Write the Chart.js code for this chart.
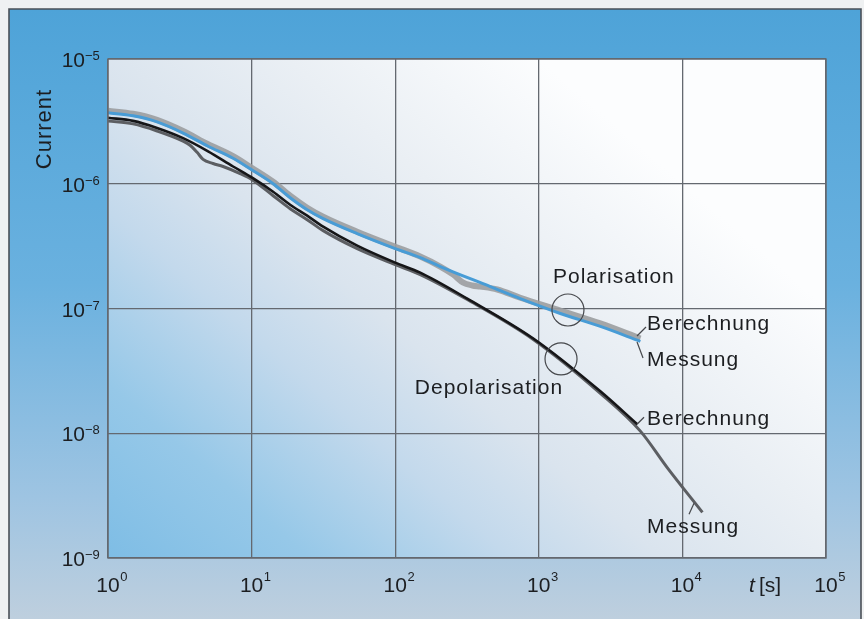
<!DOCTYPE html>
<html>
<head>
<meta charset="utf-8">
<script src="https://cdn.jsdelivr.net/npm/chart.js@4.4.1/dist/chart.umd.min.js"></script>
<style>
  html, body { margin: 0; padding: 0; background: #eff1f2; }
  canvas { display: block; }
</style>
</head>
<body>
<canvas id="chart" width="864" height="619"></canvas>
<script>
// Axis decades
const xTicks = [1, 10, 100, 1000, 10000, 100000];
const xExponents = ['0', '1', '2', '3', '4', '5'];
const yTicks = [1e-9, 1e-8, 1e-7, 1e-6, 1e-5];
const yExponents = ['\u22129', '\u22128', '\u22127', '\u22126', '\u22125'];

// Polarisation current, calculated (wide grey line)
const polCalcT = [1, 1.494, 2.195, 3.332, 4.976, 7.432, 10.08, 14.12, 18.55, 24.37, 31.5, 54.35, 100, 149.4, 205.9, 253.7, 297.8, 344.1, 391.2, 513.7, 743.2, 1412, 2683, 5098];
const polCalcI = [3.848e-6, 3.639e-6, 3.252e-6, 2.647e-6, 2.075e-6, 1.664e-6, 1.337e-6, 1.038e-6, 8.02e-7, 6.43e-7, 5.45e-7, 4.13e-7, 3.13e-7, 2.61e-7, 2.17e-7, 1.87e-7, 1.61e-7, 1.53e-7, 1.50e-7, 1.42e-7, 1.22e-7, 9.64e-8, 7.59e-8, 5.75e-8];

// Polarisation current, measured (blue line)
const polMeasT = [1, 1.494, 2.195, 3.332, 4.976, 7.432, 10.08, 14.12, 18.55, 24.37, 31.5, 54.35, 100, 149.4, 205.9, 459, 743.2, 1412, 2683, 5098];
const polMeasI = [3.707e-6, 3.504e-6, 3.132e-6, 2.550e-6, 1.999e-6, 1.601e-6, 1.287e-6, 1.0e-6, 7.73e-7, 6.19e-7, 5.25e-7, 3.98e-7, 3.02e-7, 2.56e-7, 2.17e-7, 1.50e-7, 1.20e-7, 9.12e-8, 7.18e-8, 5.45e-8];

// Depolarisation current, calculated (black line)
const depCalcT = [1, 1.494, 2.195, 3.332, 4.976, 7.432, 10.08, 14.12, 18.55, 24.37, 31.5, 54.35, 100, 149.4, 317.5, 915.5, 2683, 4856];
const depCalcI = [3.378e-6, 3.192e-6, 2.801e-6, 2.322e-6, 1.820e-6, 1.375e-6, 1.119e-6, 8.63e-7, 6.79e-7, 5.55e-7, 4.53e-7, 3.19e-7, 2.33e-7, 1.94e-7, 1.20e-7, 5.75e-8, 2.17e-8, 1.18e-8];

// Depolarisation current, measured (dark grey line)
const depMeasT = [1, 1.494, 2.195, 3.332, 3.727, 4.172, 4.592, 5.39, 6.33, 8.32, 10.08, 14.12, 18.55, 24.37, 31.5, 54.35, 100, 149.4, 317.5, 915.5, 2683, 5098, 7863, 13787];
const depMeasI = [3.192e-6, 3.018e-6, 2.647e-6, 2.195e-6, 2.037e-6, 1.786e-6, 1.567e-6, 1.454e-6, 1.375e-6, 1.206e-6, 1.078e-6, 8.02e-7, 6.31e-7, 5.15e-7, 4.21e-7, 3.02e-7, 2.25e-7, 1.87e-7, 1.18e-7, 5.65e-8, 2.09e-8, 1.04e-8, 5.28e-9, 2.32e-9];

const toPoints = (ts, is) => ts.map((t, k) => ({ x: t, y: is[k] }));

// Text annotations anchored in data space (t, I) at left edge / baseline
const notes = [
  { text: 'Polarisation',   t: 1256, i: 1.60e-7 },
  { text: 'Depolarisation', t: 137,  i: 2.07e-8 },
  { text: 'Berechnung',     t: 5670, i: 6.73e-8, lead: [[-1, -3], [-10, 6]] },
  { text: 'Messung',        t: 5670, i: 3.46e-8, lead: [[-4, -8], [-10, -24]] },
  { text: 'Berechnung',     t: 5670, i: 1.16e-8, lead: [[-3, -8], [-10, -1]] },
  { text: 'Messung',        t: 5670, i: 1.58e-9, lead: [[42, -19], [47, -30]] }
];
const rings = [
  { t: 1596, i: 9.73e-8 },
  { t: 1428, i: 3.94e-8 }
];

const SANS = '"Liberation Sans", Arial, Helvetica, sans-serif';
const INK = '#1c1e21';

const decor = {
  id: 'decor',
  beforeDraw(chart) {
    const { ctx, chartArea: a, width, height } = chart;
    ctx.save();
    ctx.fillStyle = '#eff1f2';
    ctx.fillRect(0, 0, width, height);

    // blue frame
    const g = ctx.createLinearGradient(0, 9, 0, height);
    g.addColorStop(0, 'rgb(78,163,216)');
    g.addColorStop(0.45, 'rgb(106,177,223)');
    g.addColorStop(0.8, 'rgb(158,196,226)');
    g.addColorStop(1, 'rgb(190,207,222)');
    ctx.fillStyle = g;
    ctx.fillRect(9, 9, 852, height - 9);
    ctx.strokeStyle = '#4b5057';
    ctx.lineWidth = 1.6;
    ctx.beginPath();
    ctx.moveTo(9, height + 2);
    ctx.lineTo(9, 9);
    ctx.lineTo(861, 9);
    ctx.lineTo(861, height + 2);
    ctx.stroke();

    // plot area wash: blue at lower left, white at upper right
    const w = a.right - a.left;
    const pg = ctx.createLinearGradient(a.left, a.bottom, a.left + 0.6 * w, a.top);
    pg.addColorStop(0, 'rgb(126,189,229)');
    pg.addColorStop(0.2, 'rgb(150,200,232)');
    pg.addColorStop(0.4, 'rgb(195,217,236)');
    pg.addColorStop(0.55, 'rgb(218,228,238)');
    pg.addColorStop(0.75, 'rgb(234,239,244)');
    pg.addColorStop(1, 'rgb(252,253,254)');
    ctx.fillStyle = pg;
    ctx.fillRect(a.left, a.top, w, a.bottom - a.top);
    ctx.restore();
  },
  afterDraw(chart) {
    const { ctx, chartArea: a } = chart;
    const xs = chart.scales.x, ys = chart.scales.y;
    ctx.save();

    // plot border
    ctx.strokeStyle = 'rgb(100,105,112)';
    ctx.lineWidth = 1.4;
    ctx.strokeRect(a.left, a.top, a.right - a.left, a.bottom - a.top);

    ctx.fillStyle = INK;
    ctx.textBaseline = 'alphabetic';

    // x tick labels
    xTicks.forEach((v, k) => {
      const px = xs.getPixelForValue(v);
      ctx.font = '21px ' + SANS;
      ctx.textAlign = 'center';
      ctx.fillText('10', px, a.bottom + 34);
      const tw = ctx.measureText('10').width;
      ctx.font = '13px ' + SANS;
      ctx.textAlign = 'left';
      ctx.fillText(xExponents[k], px + tw / 2 + 0.5, a.bottom + 23);
    });

    // y tick labels
    yTicks.forEach((v, k) => {
      const py = ys.getPixelForValue(v);
      ctx.font = '21px ' + SANS;
      ctx.textAlign = 'right';
      ctx.fillText('10', a.left - 23, py + 8);
      ctx.font = '13px ' + SANS;
      ctx.textAlign = 'left';
      ctx.fillText(yExponents[k], a.left - 23, py + 1);
    });

    // x axis title: t [s]
    ctx.textAlign = 'left';
    ctx.font = 'italic 21px ' + SANS;
    ctx.fillText('t', 749, a.bottom + 34);
    ctx.font = '21px ' + SANS;
    ctx.fillText('[s]', 759, a.bottom + 34);

    // y axis title
    ctx.save();
    ctx.translate(51, 129);
    ctx.rotate(-Math.PI / 2);
    ctx.font = '22px ' + SANS;
    ctx.textAlign = 'center';
    ctx.letterSpacing = '1px';
    ctx.fillText('Current', 0, 0);
    ctx.restore();

    // rings
    ctx.strokeStyle = 'rgb(70,72,76)';
    ctx.lineWidth = 1.2;
    rings.forEach(r => {
      ctx.beginPath();
      ctx.arc(xs.getPixelForValue(r.t), ys.getPixelForValue(r.i), 16, 0, Math.PI * 2);
      ctx.stroke();
    });

    // annotation texts and leader lines
    ctx.font = '21px ' + SANS;
    ctx.letterSpacing = '1px';
    ctx.textAlign = 'left';
    notes.forEach(n => {
      const px = xs.getPixelForValue(n.t), py = ys.getPixelForValue(n.i);
      ctx.fillText(n.text, px, py);
      if (n.lead) {
        ctx.beginPath();
        ctx.moveTo(px + n.lead[0][0], py + n.lead[0][1]);
        ctx.lineTo(px + n.lead[1][0], py + n.lead[1][1]);
        ctx.stroke();
      }
    });
    ctx.restore();
  }
};

const gridColor = 'rgb(100,105,112)';
const decadeTicks = vals => axis => { axis.ticks = vals.map(v => ({ value: v })); };

new Chart(document.getElementById('chart'), {
  type: 'line',
  data: {
    datasets: [
      { label: 'Polarisation Messung', data: toPoints(polMeasT, polMeasI), borderColor: 'rgb(72,156,214)', borderWidth: 3, order: 0 },
      { label: 'Depolarisation Berechnung', data: toPoints(depCalcT, depCalcI), borderColor: 'rgb(22,22,24)', borderWidth: 2.6, order: 1 },
      { label: 'Depolarisation Messung', data: toPoints(depMeasT, depMeasI), borderColor: 'rgb(92,94,98)', borderWidth: 3, order: 2 },
      { label: 'Polarisation Berechnung', data: toPoints(polCalcT, polCalcI), borderColor: 'rgba(155,157,160,0.9)', borderWidth: 6, order: 3 }
    ]
  },
  options: {
    responsive: false,
    animation: false,
    devicePixelRatio: 1,
    layout: { padding: { left: 108, top: 59, right: 38, bottom: 61 } },
    elements: {
      point: { radius: 0 },
      line: { cubicInterpolationMode: 'monotone', fill: false, borderJoinStyle: 'round', borderCapStyle: 'butt' }
    },
    plugins: { legend: { display: false }, tooltip: { enabled: false } },
    scales: {
      x: {
        type: 'logarithmic', min: 1, max: 100000,
        afterBuildTicks: decadeTicks(xTicks),
        ticks: { display: false },
        grid: { color: gridColor, lineWidth: 1.3, drawTicks: false },
        border: { display: false }
      },
      y: {
        type: 'logarithmic', min: 1e-9, max: 1e-5,
        afterBuildTicks: decadeTicks(yTicks),
        ticks: { display: false },
        grid: { color: gridColor, lineWidth: 1.3, drawTicks: false },
        border: { display: false }
      }
    }
  },
  plugins: [decor]
});
</script>
</body>
</html>
